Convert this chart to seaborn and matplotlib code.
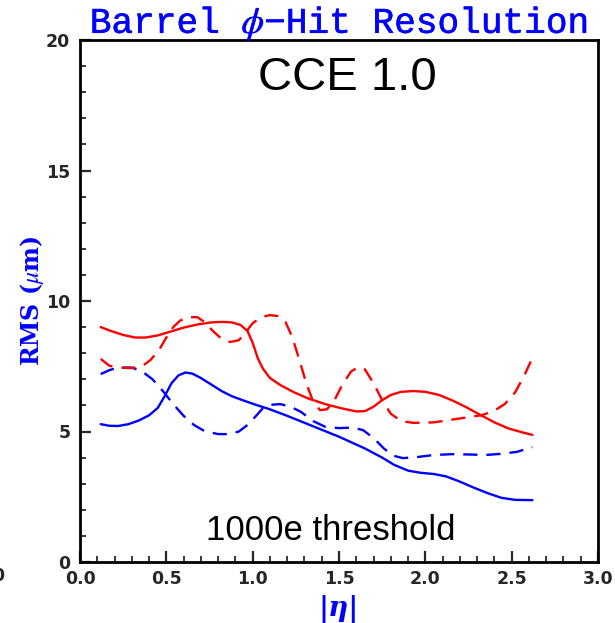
import matplotlib
matplotlib.use("Agg")
import matplotlib.pyplot as plt
import matplotlib.patheffects as pe
import seaborn as sns
import pandas as pd
from matplotlib.ticker import MultipleLocator

# ---- data ----
eta_blue_solid = [0.12, 0.17, 0.22, 0.28, 0.34, 0.4, 0.45, 0.49, 0.53, 0.57, 0.61, 0.65, 0.7, 0.76,
                  0.82, 0.88, 0.95, 1.02, 1.1, 1.2, 1.35, 1.5, 1.65, 1.75, 1.82, 1.9, 1.97, 2.05,
                  2.12, 2.2, 2.28, 2.36, 2.44, 2.52, 2.62]
rms_blue_solid = [5.28, 5.22, 5.21, 5.28, 5.42, 5.62, 5.9, 6.35, 6.85, 7.15, 7.26, 7.22, 7.05, 6.8,
                  6.55, 6.35, 6.18, 6.02, 5.85, 5.6, 5.2, 4.8, 4.35, 4.0, 3.72, 3.5, 3.42, 3.37,
                  3.28, 3.08, 2.85, 2.64, 2.46, 2.38, 2.37]

eta_blue_dash = [0.12, 0.17, 0.22, 0.3, 0.36, 0.42, 0.48, 0.54, 0.6, 0.66, 0.72, 0.8, 0.87, 0.92,
                 0.97, 1.02, 1.06, 1.1, 1.16, 1.22, 1.28, 1.35, 1.42, 1.5, 1.58, 1.64, 1.7, 1.76,
                 1.81, 1.87, 1.95, 2.05, 2.15, 2.25, 2.35, 2.45, 2.53, 2.62]
rms_blue_dash = [7.2, 7.35, 7.45, 7.45, 7.3, 7.0, 6.55, 6.05, 5.6, 5.25, 5.02, 4.9, 4.9, 5.0,
                 5.25, 5.6, 5.9, 6.02, 6.05, 5.95, 5.75, 5.4, 5.18, 5.13, 5.15, 5.05, 4.75, 4.35,
                 4.08, 3.98, 4.02, 4.1, 4.13, 4.12, 4.1, 4.15, 4.22, 4.4]

eta_red_solid = [0.12, 0.18, 0.25, 0.32, 0.38, 0.45, 0.52, 0.6, 0.68, 0.76, 0.82, 0.88, 0.93, 0.97,
                 1.0, 1.03, 1.06, 1.1, 1.16, 1.24, 1.32, 1.42, 1.52, 1.6, 1.65, 1.7, 1.75, 1.8,
                 1.86, 1.93, 2.0, 2.08, 2.16, 2.24, 2.32, 2.4, 2.48, 2.56, 2.62]
rms_red_solid = [9.0, 8.85, 8.7, 8.6, 8.6, 8.68, 8.82, 8.98, 9.1, 9.18, 9.2, 9.18, 9.08, 8.85,
                 8.4, 7.8, 7.4, 7.05, 6.78, 6.5, 6.27, 6.05, 5.88, 5.77, 5.78, 5.95, 6.2, 6.4,
                 6.52, 6.55, 6.52, 6.4, 6.18, 5.92, 5.63, 5.35, 5.12, 4.97, 4.87]

eta_red_dash = [0.12, 0.17, 0.22, 0.3, 0.36, 0.41, 0.46, 0.5, 0.54, 0.58, 0.63, 0.68, 0.72, 0.77,
                0.82, 0.87, 0.92, 0.96, 1.0, 1.05, 1.1, 1.15, 1.19, 1.23, 1.27, 1.31, 1.35, 1.39,
                1.43, 1.47, 1.52, 1.57, 1.61, 1.65, 1.7, 1.75, 1.8, 1.86, 1.93, 2.05, 2.15, 2.25,
                2.33, 2.4, 2.46, 2.52, 2.57, 2.62]
rms_red_dash = [7.78, 7.52, 7.45, 7.43, 7.5, 7.75, 8.15, 8.6, 9.0, 9.25, 9.38, 9.38, 9.2, 8.85,
                8.55, 8.43, 8.5, 8.8, 9.15, 9.38, 9.46, 9.42, 9.2, 8.6, 7.75, 6.86, 6.15, 5.82,
                5.85, 6.15, 6.8, 7.3, 7.46, 7.38, 6.85, 6.2, 5.68, 5.4, 5.33, 5.35, 5.45, 5.55,
                5.63, 5.8, 6.05, 6.5, 7.1, 7.82]

x_ticks = [0.0, 0.5, 1.0, 1.5, 2.0, 2.5, 3.0]
x_tick_labels = ["0.0", "0.5", "1.0", "1.5", "2.0", "2.5", "3.0"]
y_ticks = [0, 5, 10, 15, 20]
y_tick_labels = ["0", "5", "10", "15", "20"]

sns.set_theme(style="ticks")
plt.rcParams["font.family"] = ["Liberation Sans", "DejaVu Sans"]
plt.rcParams["mathtext.fontset"] = "stix"

fig = plt.figure(figsize=(6.15, 6.23), dpi=100)
ax = fig.add_axes([80 / 615, 61 / 623, 518 / 615, 522 / 623])

BLUE = "#0000ff"
RED = "#ff0000"
dash = (0, (6, 3.8))

series = [
    (eta_blue_solid, rms_blue_solid, BLUE, "-"),
    (eta_blue_dash, rms_blue_dash, BLUE, dash),
    (eta_red_solid, rms_red_solid, RED, "-"),
    (eta_red_dash, rms_red_dash, RED, dash),
]
for xs, ys, col, ls in series:
    df = pd.DataFrame({"eta": xs, "rms": ys})
    sns.lineplot(data=df, x="eta", y="rms", ax=ax, color=col, lw=1.7,
                 sort=False, estimator=None)
    ln = ax.lines[-1]
    ln.set_linestyle(ls)
    ln.set_solid_joinstyle("round")
    ln.set_dash_joinstyle("round")

ax.set_xlim(0, 3.0)
ax.set_ylim(0, 20)
ax.set_xticks(x_ticks)
ax.set_xticklabels(x_tick_labels)
ax.set_yticks(y_ticks)
ax.set_yticklabels(y_tick_labels)
ax.xaxis.set_minor_locator(MultipleLocator(0.1))
ax.yaxis.set_minor_locator(MultipleLocator(1))
ax.tick_params(axis="both", which="major", direction="in", length=8, width=1.6,
               labelsize=12.5, top=False, right=False)
ax.tick_params(axis="x", which="major", pad=6)
ax.tick_params(axis="y", which="major", pad=7)
ax.tick_params(axis="both", which="minor", direction="in", length=4, width=1.3,
               top=False, right=False)
for lab in ax.get_xticklabels() + ax.get_yticklabels():
    lab.set_fontweight("bold")
    lab.set_family(["DejaVu Sans"])
for sp in ax.spines.values():
    sp.set_visible(True)
    sp.set_linewidth(2.0)
    sp.set_color("black")

ax.set_xlabel("|\u03b7|", color=BLUE, fontsize=20, fontweight="bold", fontstyle="italic",
              family=["DejaVu Serif"], labelpad=5)
ax.set_ylabel(r"RMS ($\mu$m)", color=BLUE, fontsize=17, fontweight="bold",
              family=["DejaVu Serif"])
ax.yaxis.set_label_coords(-0.066, 0.5)

ax.text(1.55, 18.55, "CCE 1.0", fontsize=34, ha="center", va="center", color="black")
ax.text(1.45, 1.22, "1000e threshold", fontsize=25, ha="center", va="center", color="black")

fig.text(339 / 615, 1 - 23 / 623, "Barrel $\\phi$\u2212Hit Resolution", color=BLUE,
         fontsize=26, ha="center", va="center", family=["Liberation Mono"],
         path_effects=[pe.withStroke(linewidth=0.4, foreground=BLUE)])

# clipped tick label from a neighbouring panel at the left edge
fig.text(-8 / 615, 1 - 576 / 623, "0", fontsize=12.5, fontweight="bold",
         family=["DejaVu Sans"], ha="left", va="center")

fig.savefig("out.png", dpi=100)
